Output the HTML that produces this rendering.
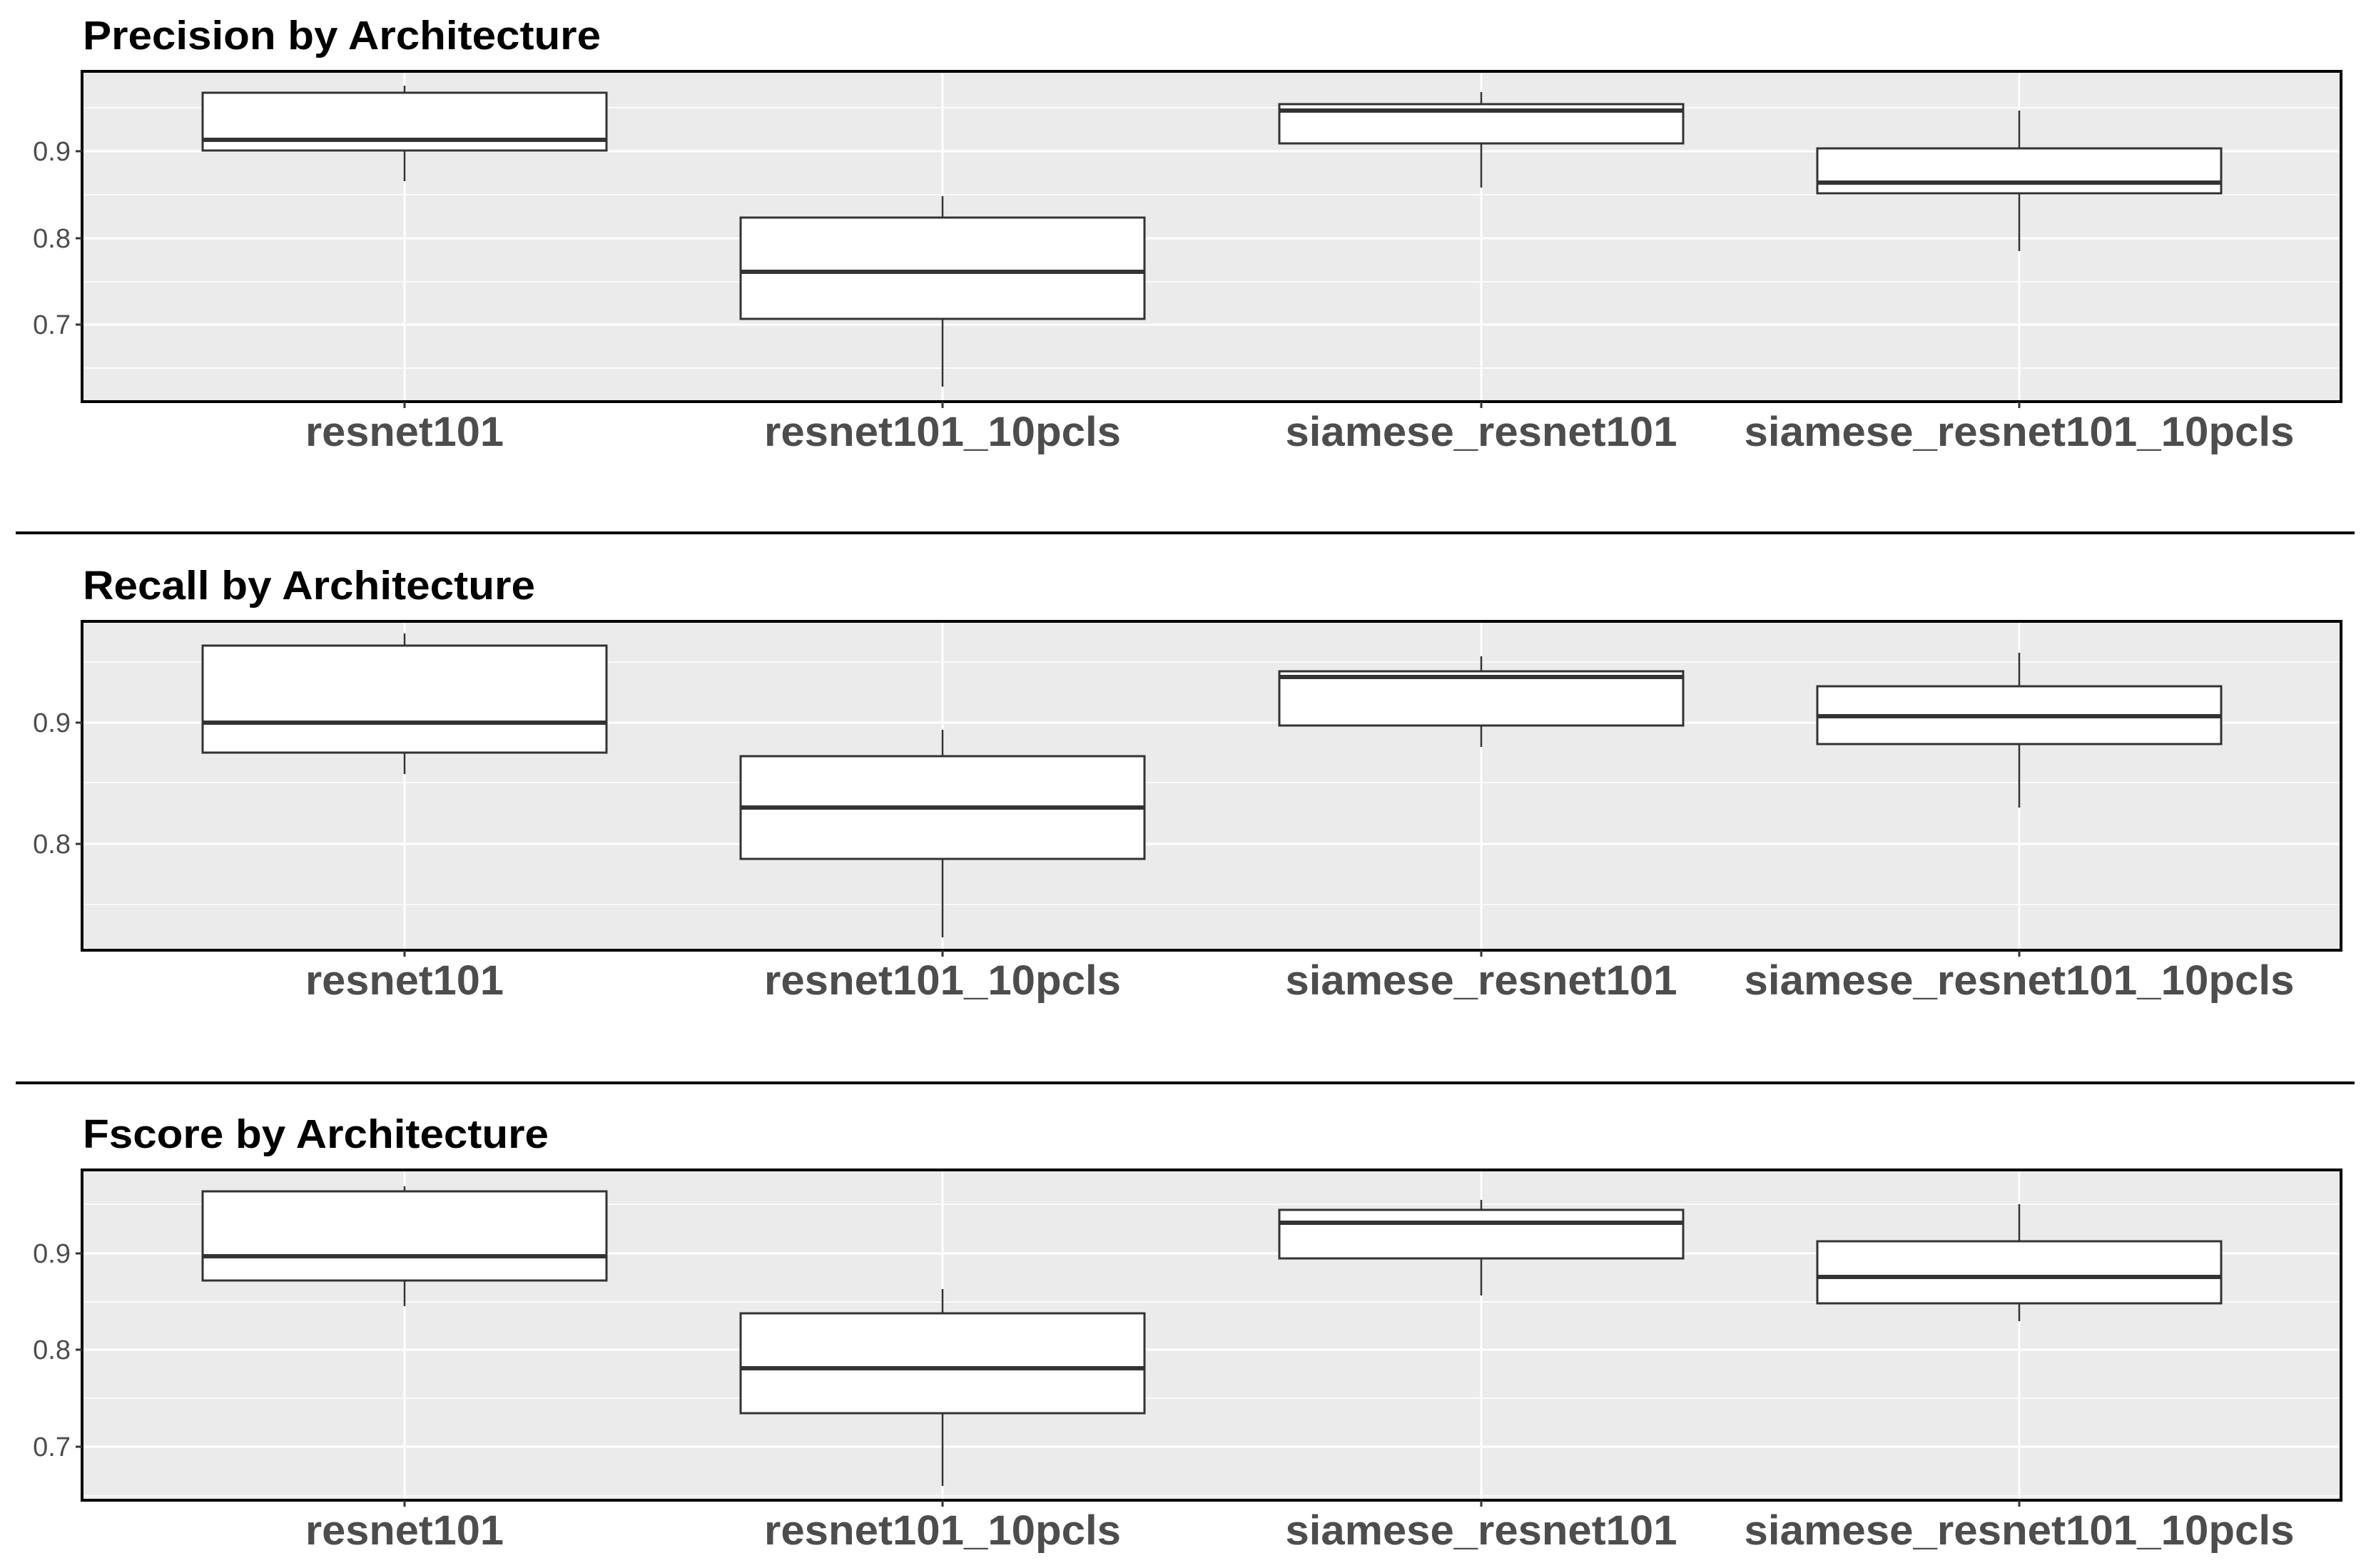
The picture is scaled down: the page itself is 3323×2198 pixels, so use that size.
<!DOCTYPE html>
<html><head><meta charset="utf-8"><style>
html,body{margin:0;padding:0;background:#fff;}
svg{display:block;}
.t{font-family:"Liberation Sans",Arial,sans-serif;font-weight:bold;fill:#000;font-size:57px;}
.y{font-family:"Liberation Sans",Arial,sans-serif;fill:#4d4d4d;font-size:38px;text-anchor:end;}
.x{font-family:"Liberation Sans",Arial,sans-serif;font-weight:bold;fill:#4d4d4d;font-size:58px;text-anchor:middle;}
</style></head><body>
<svg width="3323" height="2198" viewBox="0 0 3323 2198" xmlns="http://www.w3.org/2000/svg">
<defs></defs>
<rect width="3323" height="2198" fill="#fff"/>
<line x1="22" y1="747" x2="3300" y2="747" stroke="#000" stroke-width="4"/>
<line x1="22" y1="1518" x2="3300" y2="1518" stroke="#000" stroke-width="4"/>

<!-- Panel 1 -->
<text class="t" x="116" y="69" textLength="726" lengthAdjust="spacingAndGlyphs">Precision by Architecture</text>
<rect x="115" y="100" width="3166" height="463" fill="#ebebeb"/>
<g stroke="#fff" stroke-width="1.6">
<line x1="115" y1="151" x2="3281" y2="151"/><line x1="115" y1="273" x2="3281" y2="273"/><line x1="115" y1="395" x2="3281" y2="395"/><line x1="115" y1="516" x2="3281" y2="516"/>
</g>
<g stroke="#fff" stroke-width="3">
<line x1="115" y1="212" x2="3281" y2="212"/><line x1="115" y1="334" x2="3281" y2="334"/><line x1="115" y1="455" x2="3281" y2="455"/>
<line x1="567" y1="100" x2="567" y2="563"/><line x1="1321" y1="100" x2="1321" y2="563"/><line x1="2076" y1="100" x2="2076" y2="563"/><line x1="2830" y1="100" x2="2830" y2="563"/>
</g>
<g stroke="#333" stroke-width="2.5">
<line x1="567" y1="120" x2="567" y2="130"/><line x1="567" y1="211" x2="567" y2="254"/>
<line x1="1321" y1="275" x2="1321" y2="305"/><line x1="1321" y1="447" x2="1321" y2="542"/>
<line x1="2076" y1="129" x2="2076" y2="146"/><line x1="2076" y1="201" x2="2076" y2="263"/>
<line x1="2830" y1="155" x2="2830" y2="208"/><line x1="2830" y1="271" x2="2830" y2="352"/>
</g>
<g fill="#fff" stroke="#333" stroke-width="3">
<rect x="284" y="130" width="566" height="81"/><rect x="1038" y="305" width="566" height="142"/>
<rect x="1793" y="146" width="566" height="55"/><rect x="2547" y="208" width="566" height="63"/>
</g>
<g stroke="#333" stroke-width="6">
<line x1="284" y1="196" x2="850" y2="196"/><line x1="1038" y1="381" x2="1604" y2="381"/>
<line x1="1793" y1="155" x2="2359" y2="155"/><line x1="2547" y1="256" x2="3113" y2="256"/>
</g>
<rect x="115" y="100" width="3166" height="463" fill="none" stroke="#000" stroke-width="4"/>
<g stroke="#333" stroke-width="3">
<line x1="106" y1="212" x2="115" y2="212"/><line x1="106" y1="334" x2="115" y2="334"/><line x1="106" y1="455" x2="115" y2="455"/>
<line x1="567" y1="563" x2="567" y2="572"/><line x1="1321" y1="563" x2="1321" y2="572"/><line x1="2076" y1="563" x2="2076" y2="572"/><line x1="2830" y1="563" x2="2830" y2="572"/>
</g>
<text class="y" x="99" y="225">0.9</text><text class="y" x="99" y="347">0.8</text><text class="y" x="99" y="468">0.7</text>
<text class="x" x="567" y="625" textLength="278" lengthAdjust="spacingAndGlyphs">resnet101</text><text class="x" x="1321" y="625" textLength="500" lengthAdjust="spacingAndGlyphs">resnet101_10pcls</text>
<text class="x" x="2076" y="625" textLength="549" lengthAdjust="spacingAndGlyphs">siamese_resnet101</text><text class="x" x="2830" y="625" textLength="771" lengthAdjust="spacingAndGlyphs">siamese_resnet101_10pcls</text>

<!-- Panel 2 -->
<text class="t" x="116" y="840" textLength="634" lengthAdjust="spacingAndGlyphs">Recall by Architecture</text>
<rect x="115" y="871" width="3166" height="461" fill="#ebebeb"/>
<g stroke="#fff" stroke-width="1.6">
<line x1="115" y1="928" x2="3281" y2="928"/><line x1="115" y1="1097" x2="3281" y2="1097"/><line x1="115" y1="1268" x2="3281" y2="1268"/>
</g>
<g stroke="#fff" stroke-width="3">
<line x1="115" y1="1013" x2="3281" y2="1013"/><line x1="115" y1="1183" x2="3281" y2="1183"/>
<line x1="567" y1="871" x2="567" y2="1332"/><line x1="1321" y1="871" x2="1321" y2="1332"/><line x1="2076" y1="871" x2="2076" y2="1332"/><line x1="2830" y1="871" x2="2830" y2="1332"/>
</g>
<g stroke="#333" stroke-width="2.5">
<line x1="567" y1="888" x2="567" y2="905"/><line x1="567" y1="1055" x2="567" y2="1085"/>
<line x1="1321" y1="1023" x2="1321" y2="1060"/><line x1="1321" y1="1204" x2="1321" y2="1314"/>
<line x1="2076" y1="920" x2="2076" y2="941"/><line x1="2076" y1="1017" x2="2076" y2="1047"/>
<line x1="2830" y1="915" x2="2830" y2="962"/><line x1="2830" y1="1043" x2="2830" y2="1132"/>
</g>
<g fill="#fff" stroke="#333" stroke-width="3">
<rect x="284" y="905" width="566" height="150"/><rect x="1038" y="1060" width="566" height="144"/>
<rect x="1793" y="941" width="566" height="76"/><rect x="2547" y="962" width="566" height="81"/>
</g>
<g stroke="#333" stroke-width="6">
<line x1="284" y1="1013" x2="850" y2="1013"/><line x1="1038" y1="1132" x2="1604" y2="1132"/>
<line x1="1793" y1="949" x2="2359" y2="949"/><line x1="2547" y1="1004" x2="3113" y2="1004"/>
</g>
<rect x="115" y="871" width="3166" height="461" fill="none" stroke="#000" stroke-width="4"/>
<g stroke="#333" stroke-width="3">
<line x1="106" y1="1013" x2="115" y2="1013"/><line x1="106" y1="1183" x2="115" y2="1183"/>
<line x1="567" y1="1332" x2="567" y2="1341"/><line x1="1321" y1="1332" x2="1321" y2="1341"/><line x1="2076" y1="1332" x2="2076" y2="1341"/><line x1="2830" y1="1332" x2="2830" y2="1341"/>
</g>
<text class="y" x="99" y="1026">0.9</text><text class="y" x="99" y="1196">0.8</text>
<text class="x" x="567" y="1394" textLength="278" lengthAdjust="spacingAndGlyphs">resnet101</text><text class="x" x="1321" y="1394" textLength="500" lengthAdjust="spacingAndGlyphs">resnet101_10pcls</text>
<text class="x" x="2076" y="1394" textLength="549" lengthAdjust="spacingAndGlyphs">siamese_resnet101</text><text class="x" x="2830" y="1394" textLength="771" lengthAdjust="spacingAndGlyphs">siamese_resnet101_10pcls</text>

<!-- Panel 3 -->
<text class="t" x="116" y="1609" textLength="653" lengthAdjust="spacingAndGlyphs">Fscore by Architecture</text>
<rect x="115" y="1640" width="3166" height="463" fill="#ebebeb"/>
<g stroke="#fff" stroke-width="1.6">
<line x1="115" y1="1688" x2="3281" y2="1688"/><line x1="115" y1="1825" x2="3281" y2="1825"/><line x1="115" y1="1960" x2="3281" y2="1960"/><line x1="115" y1="2097" x2="3281" y2="2097"/>
</g>
<g stroke="#fff" stroke-width="3">
<line x1="115" y1="1757" x2="3281" y2="1757"/><line x1="115" y1="1892" x2="3281" y2="1892"/><line x1="115" y1="2028" x2="3281" y2="2028"/>
<line x1="567" y1="1640" x2="567" y2="2103"/><line x1="1321" y1="1640" x2="1321" y2="2103"/><line x1="2076" y1="1640" x2="2076" y2="2103"/><line x1="2830" y1="1640" x2="2830" y2="2103"/>
</g>
<g stroke="#333" stroke-width="2.5">
<line x1="567" y1="1663" x2="567" y2="1670"/><line x1="567" y1="1795" x2="567" y2="1831"/>
<line x1="1321" y1="1807" x2="1321" y2="1841"/><line x1="1321" y1="1981" x2="1321" y2="2083"/>
<line x1="2076" y1="1682" x2="2076" y2="1696"/><line x1="2076" y1="1764" x2="2076" y2="1816"/>
<line x1="2830" y1="1688" x2="2830" y2="1740"/><line x1="2830" y1="1827" x2="2830" y2="1852"/>
</g>
<g fill="#fff" stroke="#333" stroke-width="3">
<rect x="284" y="1670" width="566" height="125"/><rect x="1038" y="1841" width="566" height="140"/>
<rect x="1793" y="1696" width="566" height="68"/><rect x="2547" y="1740" width="566" height="87"/>
</g>
<g stroke="#333" stroke-width="6">
<line x1="284" y1="1761" x2="850" y2="1761"/><line x1="1038" y1="1918" x2="1604" y2="1918"/>
<line x1="1793" y1="1714" x2="2359" y2="1714"/><line x1="2547" y1="1790" x2="3113" y2="1790"/>
</g>
<rect x="115" y="1640" width="3166" height="463" fill="none" stroke="#000" stroke-width="4"/>
<g stroke="#333" stroke-width="3">
<line x1="106" y1="1757" x2="115" y2="1757"/><line x1="106" y1="1892" x2="115" y2="1892"/><line x1="106" y1="2028" x2="115" y2="2028"/>
<line x1="567" y1="2103" x2="567" y2="2112"/><line x1="1321" y1="2103" x2="1321" y2="2112"/><line x1="2076" y1="2103" x2="2076" y2="2112"/><line x1="2830" y1="2103" x2="2830" y2="2112"/>
</g>
<text class="y" x="99" y="1770">0.9</text><text class="y" x="99" y="1905">0.8</text><text class="y" x="99" y="2041">0.7</text>
<text class="x" x="567" y="2165" textLength="278" lengthAdjust="spacingAndGlyphs">resnet101</text><text class="x" x="1321" y="2165" textLength="500" lengthAdjust="spacingAndGlyphs">resnet101_10pcls</text>
<text class="x" x="2076" y="2165" textLength="549" lengthAdjust="spacingAndGlyphs">siamese_resnet101</text><text class="x" x="2830" y="2165" textLength="771" lengthAdjust="spacingAndGlyphs">siamese_resnet101_10pcls</text>
</svg>
</body></html>
